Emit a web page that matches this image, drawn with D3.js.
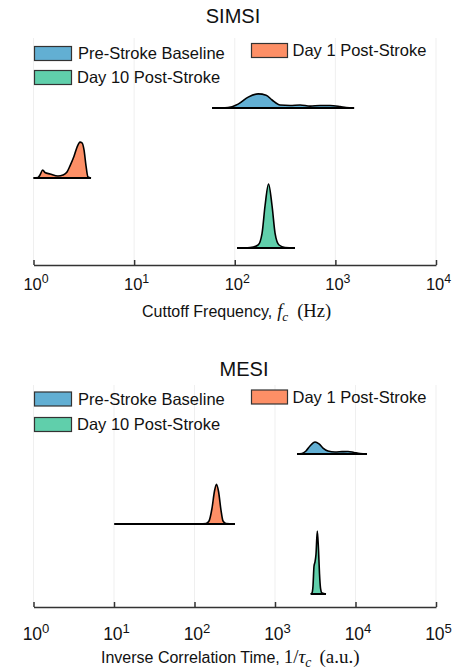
<!DOCTYPE html>
<html>
<head>
<meta charset="utf-8">
<script src="https://cdn.jsdelivr.net/npm/d3@7"></script>
<style>
  body { margin: 0; background: #fff; }
  svg { display: block; }
  text { font-family: "Liberation Sans", Arial, sans-serif; fill: #111; }
</style>
</head>
<body>
<div id="chart"></div>
<script>
// groups, top to bottom
const groups = ['Pre-Stroke Baseline', 'Day 1 Post-Stroke', 'Day 10 Post-Stroke'];
const colors = ['#62afd3', '#fd8f66', '#60cfab'];

// SIMSI cutoff frequency (Hz) vs relative density
const simsiPreX = [59.5, 85.7, 108, 136, 171, 205, 235, 282, 355, 446, 561, 705, 885, 1113, 1277, 1535];
const simsiPreD = [0, 0.008, 0.06, 0.17, 0.22, 0.2, 0.125, 0.047, 0.04, 0.047, 0.03, 0.04, 0.04, 0.023, 0.008, 0];
const simsiDay1X = [1.0, 1.108, 1.16, 1.235, 1.30, 1.46, 1.752, 1.965, 2.153, 2.306, 2.527, 2.706, 2.90, 3.035, 3.177, 3.326, 3.48, 3.73];
const simsiDay1D = [0, 0.008, 0.047, 0.125, 0.086, 0.063, 0.031, 0.047, 0.094, 0.19, 0.34, 0.48, 0.56, 0.55, 0.44, 0.19, 0.016, 0];
const simsiDay10X = [105.4, 142, 170.5, 186.8, 200, 216.7, 234.8, 251.6, 275.6, 316, 397];
const simsiDay10D = [0, 0.008, 0.047, 0.23, 0.66, 1.0, 0.66, 0.23, 0.047, 0.008, 0];
const simsiTicks = [1, 10, 100, 1000, 10000];

// MESI inverse correlation time (a.u.) vs relative density
const mesiPreX = [1876, 2163, 2426, 2722, 3141, 3524, 3948, 4550, 5560, 6790, 8070, 9580, 11380, 13900];
const mesiPreD = [0, 0.008, 0.048, 0.127, 0.19, 0.16, 0.095, 0.048, 0.032, 0.037, 0.04, 0.024, 0.008, 0];
const mesiDay1X = [10.1, 117, 139, 151.5, 165, 177, 187.5, 198.6, 213.3, 226, 246, 318.5];
const mesiDay1D = [0, 0, 0.008, 0.048, 0.25, 0.52, 0.63, 0.52, 0.22, 0.048, 0.008, 0];
const mesiDay10X = [2777, 2881, 2965, 3051, 3140, 3230, 3354, 3470, 3572, 3675, 3836, 4304];
const mesiDay10D = [0, 0.016, 0.127, 0.44, 0.51, 0.63, 1.0, 0.71, 0.32, 0.095, 0.016, 0];
const mesiTicks = [1, 10, 100, 1000, 10000, 100000];

const W = 460, H = 669;
const SERIF = '"Liberation Serif", "Times New Roman", serif';
const svg = d3.select('#chart').append('svg').attr('width', W).attr('height', H);

function panel(p) {
  const g = svg.append('g');
  const x = d3.scaleLog().domain([p.ticks[0], p.ticks[p.ticks.length - 1]]).range([33.5, 436]);
  const row = d3.scalePoint().domain(groups).range(p.rows);
  const h = d3.scaleLinear().domain([0, 1]).range([0, p.ridgeH]);

  // grid
  g.selectAll('.grid').data(p.ticks).join('line')
    .attr('x1', d => x(d)).attr('x2', d => x(d))
    .attr('y1', p.gridTop).attr('y2', p.axisY)
    .attr('stroke', '#efefef').attr('stroke-width', 1);

  // title
  g.append('text').attr('x', p.titleX).attr('y', p.titleY)
    .attr('text-anchor', 'middle').style('font-size', '20px').text(p.title);

  // ridges
  p.series.forEach((s, i) => {
    const pts = s.x.map((v, j) => [v, s.d[j]]);
    const base = row(groups[i]);
    const area = d3.area().x(d => x(d[0])).y0(base).y1(d => base - h(d[1])).curve(d3.curveMonotoneX);
    const line = d3.line().x(d => x(d[0])).y(d => base - h(d[1])).curve(d3.curveMonotoneX);
    g.append('path').attr('d', area(pts)).attr('fill', colors[i]);
    g.append('path').attr('d', line(pts)).attr('fill', 'none').attr('stroke', '#000').attr('stroke-width', 1.6);
    g.append('line').attr('x1', x(d3.min(s.x))).attr('x2', x(d3.max(s.x)))
      .attr('y1', base).attr('y2', base).attr('stroke', '#000').attr('stroke-width', 2);
  });

  // axis
  const ax = g.append('g').attr('transform', `translate(0,${p.axisY})`)
    .call(d3.axisBottom(x).tickValues(p.ticks).tickSizeInner(-5).tickSizeOuter(0).tickFormat(''));
  ax.select('.domain').attr('stroke', '#333').attr('stroke-width', 1.5);
  ax.selectAll('.tick line').attr('stroke', '#333').attr('stroke-width', 1.5);
  ax.selectAll('.tick').append('text')
    .attr('y', p.tickY).attr('x', 2).attr('text-anchor', 'middle').attr('fill', '#111')
    .style('font-size', p.tickFont + 'px')
    .each(function (d) {
      const t = d3.select(this);
      t.append('tspan').text('10');
      t.append('tspan').attr('dy', -p.tickFont * 0.4).style('font-size', (p.tickFont * 0.75) + 'px')
        .text(Math.round(Math.log10(d)));
    });

  // axis label: sans text followed by math parts
  const lab = g.append('text').attr('x', p.labelX).attr('y', p.labelY).style('font-size', p.labelFont + 'px');
  let shift = 0;
  p.label.forEach(part => {
    const ts = lab.append('tspan').text(part.t);
    if (part.dx) ts.attr('dx', part.dx);
    if (part.serif) ts.style('font-family', SERIF).style('font-size', (part.sub ? p.mathFont * 0.72 : p.mathFont) + 'px');
    if (part.it) ts.style('font-style', 'italic');
    const want = part.sub ? 4 : 0;
    if (want !== shift) { ts.attr('dy', want - shift); shift = want; }
  });

  // legend
  p.legend.forEach((L, i) => {
    g.append('rect').attr('x', L[0]).attr('y', L[1] - 7).attr('width', L[2]).attr('height', 14)
      .attr('fill', colors[i]).attr('stroke', '#333').attr('stroke-width', 1.2);
    g.append('text').attr('x', L[0] + L[2] + L[3]).attr('y', L[1]).attr('dy', '0.35em')
      .style('font-size', '16.5px').text(groups[i]);
  });
}

panel({
  title: 'SIMSI', titleX: 233, titleY: 23,
  ticks: simsiTicks, rows: [108, 248], ridgeH: 64, axisY: 265, gridTop: 38,
  tickY: 25, tickFont: 16.5, labelX: 142, labelY: 317, labelFont: 16, mathFont: 18.5,
  label: [{ t: 'Cuttoff Frequency,' }, { t: 'f', serif: true, it: true, dx: 5 }, { t: 'c', serif: true, it: true, sub: true },
          { t: '(Hz)', serif: true, dx: 9 }],
  legend: [[34.5, 53.5, 37, 6.5], [251.5, 50.5, 36, 5], [34.5, 77.5, 37, 5.5]],
  series: [{ x: simsiPreX, d: simsiPreD }, { x: simsiDay1X, d: simsiDay1D }, { x: simsiDay10X, d: simsiDay10D }]
});

panel({
  title: 'MESI', titleX: 244, titleY: 376,
  ticks: mesiTicks, rows: [454, 594], ridgeH: 63, axisY: 607, gridTop: 385,
  tickY: 33, tickFont: 17.5, labelX: 101, labelY: 663, labelFont: 16, mathFont: 19,
  label: [{ t: 'Inverse Correlation Time,' }, { t: '1/', serif: true, dx: 4 }, { t: '\u03c4', serif: true, it: true },
          { t: 'c', serif: true, it: true, sub: true }, { t: '(a.u.)', serif: true, dx: 8 }],
  legend: [[34.5, 399, 37, 6.5], [251.5, 397, 36, 5], [34.5, 424.5, 37, 5.5]],
  series: [{ x: mesiPreX, d: mesiPreD }, { x: mesiDay1X, d: mesiDay1D }, { x: mesiDay10X, d: mesiDay10D }]
});
</script>
</body>
</html>
